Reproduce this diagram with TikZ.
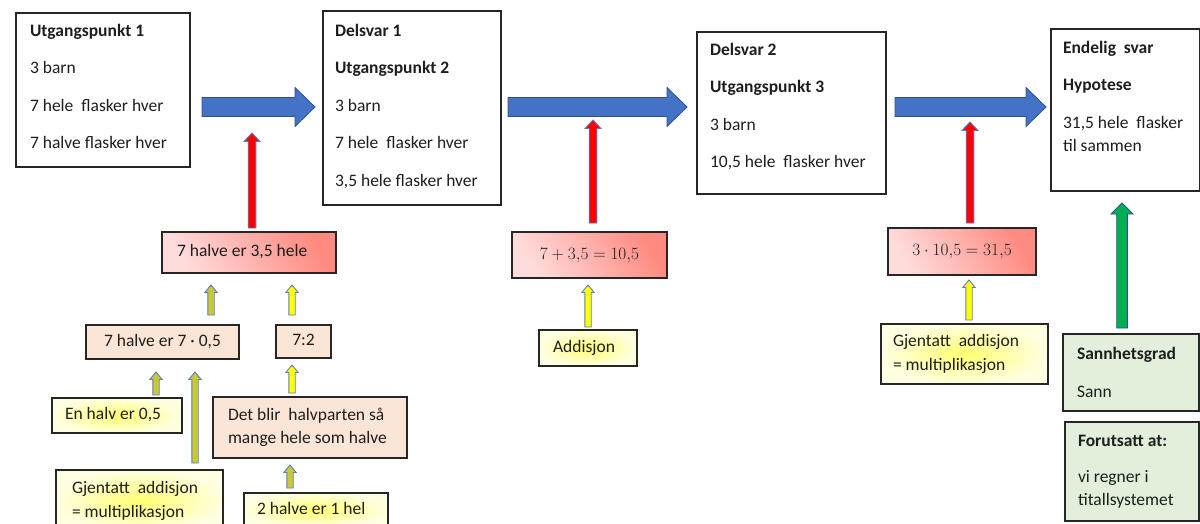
\documentclass[tikz,border=0pt]{standalone}
\usepackage{fontspec}
\setmainfont{Carlito}
\usetikzlibrary{calc}

\definecolor{arrowblue}{HTML}{4472C4}
\definecolor{arrowedge}{HTML}{2F528F}
\definecolor{edgeblue}{HTML}{5B7EC2}
\definecolor{redfill}{HTML}{FF0000}
\definecolor{yelbright}{HTML}{FFFF00}
\definecolor{yelolive}{HTML}{C9C935}
\definecolor{greenfill}{HTML}{00B050}
\definecolor{pinklight}{HTML}{FFDCDC}
\definecolor{pinkdark}{HTML}{FF8A80}
\definecolor{peach}{HTML}{FBE5D6}
\definecolor{yelinner}{HTML}{FFFF70}
\definecolor{yelouter}{HTML}{FFFFE2}
\definecolor{sage}{HTML}{E2EFDA}
\definecolor{frame}{HTML}{262626}
\definecolor{ink}{HTML}{1E1E1E}

% strut fixing the height of the first text line in the large boxes
\newcommand\firstline{\rule{0pt}{13pt}}

\begin{document}
\begin{tikzpicture}[x=1pt,y=-1pt,
  font=\fontsize{17.5}{23.5}\selectfont,
  every node/.style={inner sep=0pt, outer sep=0pt, text=ink},
  frame/.style={draw=frame, line width=1.3pt, rectangle, anchor=north west},
  plainbox/.style={frame, fill=white},
  pinkbox/.style={frame, top color=pinkdark, bottom color=pinklight, shading angle=-60},
  peachbox/.style={frame, fill=peach},
  yelbox/.style={frame, inner color=yelinner, outer color=yelouter},
  sagebox/.style={frame, fill=sage},
  bigtext/.style={anchor=north west, align=left, font=\fontsize{17.5}{37.5}\selectfont},
  linetext/.style={text height=12pt, text depth=4pt},
  % block arrow drawn from the start point to the tip
  blockarrow/.style n args={3}{to path={
    let \p1=(\tikztostart), \p2=(\tikztotarget),
        \n1={atan2(\y2-\y1,\x2-\x1)} in
    ($(\p1)+(\n1+90:#1)$) -- ($(\p2)+(\n1+180:#3)+(\n1+90:#1)$)
    -- ($(\p2)+(\n1+180:#3)+(\n1+90:#2)$) -- (\p2)
    -- ($(\p2)+(\n1+180:#3)+(\n1-90:#2)$) -- ($(\p2)+(\n1+180:#3)+(\n1-90:#1)$)
    -- ($(\p1)+(\n1-90:#1)$) -- cycle}},
  bluearrow/.style={fill=arrowblue, draw=arrowedge, line width=0.8pt, blockarrow={9.5pt}{19.5pt}{20pt}},
  redarrow/.style={fill=redfill, draw=edgeblue, line width=0.9pt, blockarrow={3.8pt}{8pt}{8.5pt}},
  yarrow/.style={fill=yelbright, draw=edgeblue, line width=0.9pt, blockarrow={3.2pt}{6.2pt}{7.5pt}},
  oarrow/.style={fill=yelolive, draw=edgeblue, line width=0.9pt, blockarrow={3.2pt}{6.2pt}{7.5pt}},
  garrow/.style={fill=greenfill, draw=arrowedge, line width=0.9pt, blockarrow={5.3pt}{11pt}{11pt}},
]
\useasboundingbox (0,0) rectangle (1200,523);
\clip (0,0) rectangle (1200,523);

% ---- main chain of boxes
\node[plainbox, minimum width=174pt, minimum height=154pt] (B1) at (16,13) {};
\node[plainbox, minimum width=178pt, minimum height=194pt] (B2) at (323,11) {};
\node[plainbox, minimum width=189pt, minimum height=162pt] (B3) at (697,32) {};
\node[plainbox, minimum width=149pt, minimum height=162pt] (B4) at (1051,29) {};

\node[bigtext] at (30,23) {\firstline\textbf{Utgangspunkt 1}\\3 barn\\7 hele\ \ flasker hver\\7 halve flasker hver};
\node[bigtext] at (335,23) {\firstline\textbf{Delsvar 1}\\\textbf{Utgangspunkt 2}\\3 barn\\7 hele\ \ flasker hver\\3,5 hele flasker hver};
\node[bigtext] at (710,42) {\firstline\textbf{Delsvar 2}\\\textbf{Utgangspunkt 3}\\3 barn\\10,5 hele\ \ flasker hver};
\node[bigtext] at (1063,40) {\firstline\textbf{Endelig\ \ svar}\\\textbf{Hypotese}\\31,5 hele\ \ flasker\\[-14pt]til sammen};

% ---- calculation boxes
\node[pinkbox, minimum width=174pt, minimum height=41pt] (P1) at (162,232) {};
\node[pinkbox, minimum width=155pt, minimum height=46pt] (P2) at (512,232) {};
\node[pinkbox, minimum width=148pt, minimum height=47pt] (P3) at (888,228) {};

\node[linetext, anchor=west] at ($(P1.west)+(15,0)$) {7 halve er 3,5 hele};
\node[linetext] at (P2.center) {$7+3{,}5=10{,}5$};
\node[linetext] at (P3.center) {$3\cdot 10{,}5=31{,}5$};

% ---- reasoning boxes
\node[peachbox, minimum width=153pt, minimum height=34pt] (Q1) at (86,325) {};
\node[peachbox, minimum width=55pt, minimum height=33pt] (Q2) at (276,325) {};
\node[peachbox, minimum width=194pt, minimum height=61pt] (Q3) at (213,397) {};

\node[linetext] at (Q1.center) {7 halve er 7 · 0,5};
\node[linetext] at (Q2.center) {7:2};
\node[anchor=west, align=left] at ($(Q3.west)+(15,0)$) {Det blir\ \ halvparten så\\mange hele som halve};

% ---- background knowledge
\node[yelbox, minimum width=130pt, minimum height=35pt] (Y1) at (52,398) {};
\node[yelbox, minimum width=167pt, minimum height=62pt] (Y2) at (56,470) {};
\node[yelbox, minimum width=144pt, minimum height=34pt] (Y3) at (244,493) {};
\node[yelbox, minimum width=98pt, minimum height=36pt] (Y4) at (539,330) {};
\node[yelbox, minimum width=167pt, minimum height=60pt] (Y5) at (881,324) {};

\node[linetext, anchor=west] at ($(Y1.west)+(13,0)$) {En halv er 0,5};
\node[anchor=west, align=left] at ($(Y2.west)+(16,0)$) {Gjentatt\ \ addisjon\\= multiplikasjon};
\node[linetext, anchor=west] at ($(Y3.west)+(13,0)$) {2 halve er 1 hel};
\node[linetext, anchor=west] at ($(Y4.west)+(14,0)$) {Addisjon};
\node[anchor=west, align=left] at ($(Y5.west)+(12,0)$) {Gjentatt\ \ addisjon\\= multiplikasjon};

% ---- truth value and assumption
\node[sagebox, minimum width=136pt, minimum height=77pt] (G1) at (1063,334) {};
\node[sagebox, minimum width=134pt, minimum height=99pt] (G2) at (1065,422) {};

\node[anchor=west, align=left] at ($(G1.west)+(14,0)$) {\textbf{Sannhetsgrad}\\[14pt]Sann};
\node[anchor=west, align=left] at ($(G2.west)+(13,0)$) {\textbf{Forutsatt at:}\\[12.5pt]vi regner i\\titallsystemet};

% ---- flow arrows
\coordinate (yb) at (0,107);
\draw[bluearrow] ($(B1.east|-yb)+(12,0)$) to ($(B2.west|-yb)+(-8,0)$);
\draw[bluearrow] ($(B2.east|-yb)+(7,0)$) to ($(B3.west|-yb)+(-10,0)$);
\draw[bluearrow] ($(B3.east|-yb)+(9,0)$) to ($(B4.west|-yb)+(-5,0)$);

\coordinate (r1) at (252,133);
\coordinate (r2) at (593,120);
\coordinate (r3) at (970,122);
\draw[redarrow] ($(r1|-P1.north)+(0,-4)$) to (r1);
\draw[redarrow] ($(r2|-P2.north)+(0,-9)$) to (r2);
\draw[redarrow] ($(r3|-P3.north)+(0,-5)$) to (r3);

\coordinate (ca) at (211,0);
\coordinate (cb) at (292,0);
\coordinate (cc) at (156,0);
\coordinate (cd) at (195,0);
\coordinate (ce) at (290,0);
\coordinate (cf) at (588,0);
\coordinate (cg) at (969,0);
\coordinate (ch) at (1122,0);
\draw[oarrow] ($(ca|-Q1.north)+(0,-10)$) to ($(ca|-P1.south)+(0,12)$);
\draw[yarrow] ($(cb|-Q2.north)+(0,-10)$) to ($(cb|-P1.south)+(0,12)$);
\draw[oarrow] ($(cc|-Y1.north)+(0,-3)$) to ($(cc|-Q1.south)+(0,13)$);
\draw[oarrow] ($(cd|-Y2.north)+(0,-7)$) to ($(cd|-Q1.south)+(0,13)$);
\draw[yarrow] ($(cb|-Q3.north)+(0,-4)$) to ($(cb|-Q2.south)+(0,7)$);
\draw[oarrow] ($(ce|-Y3.north)+(0,-5)$) to ($(ce|-Q3.south)+(0,7)$);
\draw[yarrow] ($(cf|-Y4.north)+(0,-3)$) to ($(cf|-P2.south)+(0,7)$);
\draw[yarrow] ($(cg|-Y5.north)+(0,-4)$) to ($(cg|-P3.south)+(0,5)$);
\draw[garrow] ($(ch|-G1.north)+(0,-6)$) to ($(ch|-B4.south)+(0,12)$);
\end{tikzpicture}
\end{document}
